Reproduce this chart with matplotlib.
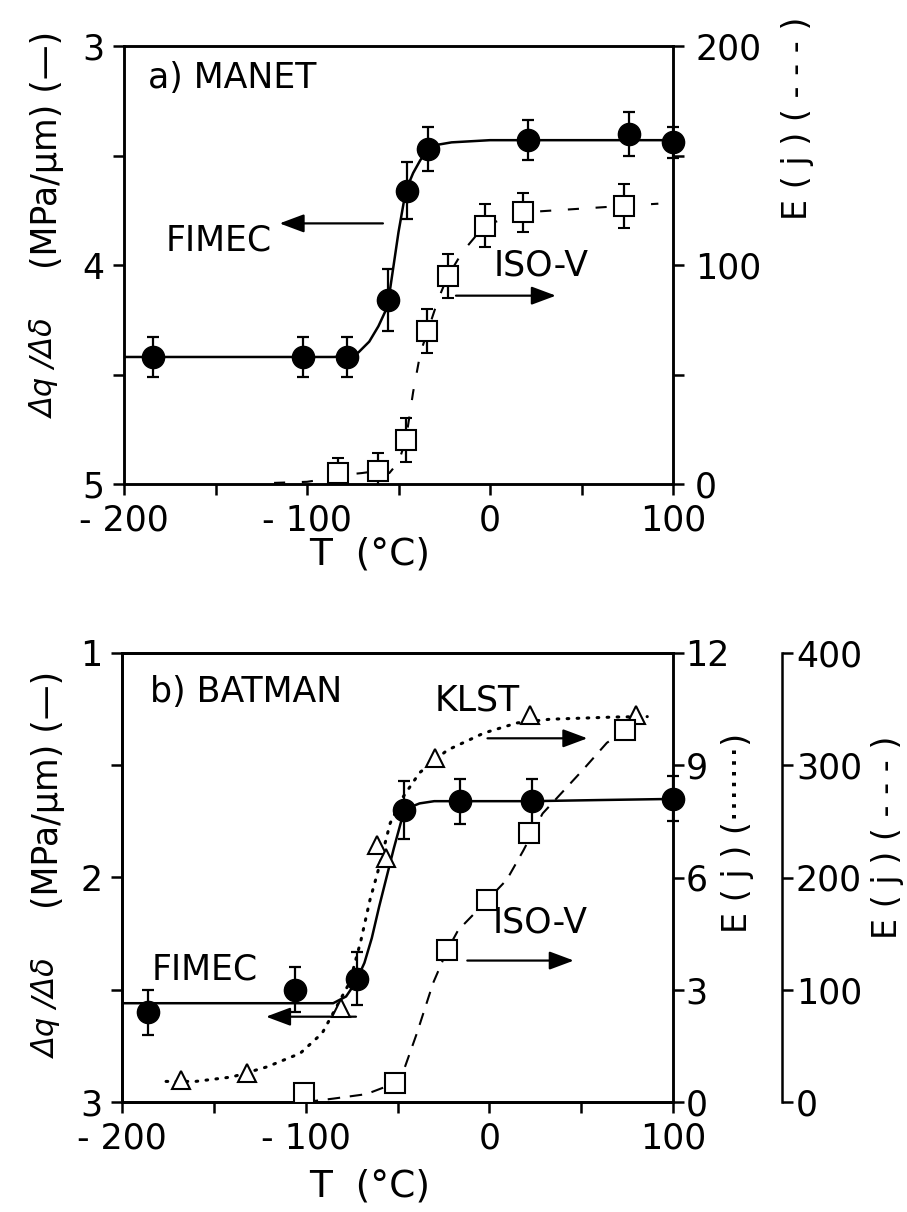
import matplotlib
matplotlib.use("Agg")
import matplotlib.pyplot as plt
from matplotlib.ticker import FixedLocator

plt.rcParams['font.family'] = ['DejaVu Sans']
plt.rcParams['lines.scale_dashes'] = False

# ---------------- Panel a: MANET ----------------
a_fimec_T = [-184, -102, -78, -56, -45.5, -34, 21, 76, 100]
a_fimec_v = [4.42, 4.42, 4.42, 4.16, 3.66, 3.47, 3.43, 3.40, 3.44]
a_fimec_err = [0.09, 0.09, 0.09, 0.14, 0.13, 0.10, 0.09, 0.10, 0.07]
a_fit_T = [-200, -120, -85, -72, -66, -61, -56, -53, -50, -46, -42, -38, -34, -28, -21, 0, 50, 100]
a_fit_v = [4.42, 4.42, 4.42, 4.40, 4.35, 4.28, 4.19, 4.02, 3.85, 3.66, 3.58, 3.52, 3.48, 3.45, 3.44, 3.43, 3.43, 3.43]

a_iso_T = [-83, -61, -46, -34.5, -23, -3, 18, 73]
a_iso_E = [5, 6, 20, 70, 95, 118, 124, 127]
a_iso_err = [7, 8, 10, 10, 10, 10, 9, 10]
a_isofit_T = [-118, -100, -88, -82, -70, -61, -55, -50, -46, -42, -38, -34, -28, -23, -15, -3, 18, 73, 92]
a_isofit_E = [0.5, 1, 2.5, 4, 5, 6, 5, 10, 20, 42, 60, 70, 85, 95, 106, 118, 124, 127, 128]

# ---------------- Panel b: BATMAN ----------------
b_fimec_T = [-186, -106, -72, -46.5, -16, 23, 100]
b_fimec_v = [2.60, 2.50, 2.45, 1.70, 1.66, 1.66, 1.65]
b_fimec_err = [0.10, 0.10, 0.12, 0.13, 0.10, 0.10, 0.10]
b_fit_T = [-200, -100, -85, -78, -73, -68, -64, -60, -56, -52, -48, -44, -38, -30, -20, 0, 23, 60, 100]
b_fit_v = [2.56, 2.56, 2.56, 2.53, 2.47, 2.38, 2.27, 2.13, 2.00, 1.87, 1.75, 1.69, 1.67, 1.66, 1.66, 1.66, 1.66, 1.655, 1.65]

b_klst_T = [-168, -132, -81, -61, -56, -29.6, 22, 80]
b_klst_E = [0.59, 0.78, 2.5, 6.87, 6.52, 9.19, 10.34, 10.34]
b_klstfit_T = [-176, -160, -140, -121, -103, -91, -85, -76, -70, -65, -61, -54, -47, -38, -23, -3, 15, 33, 69, 86]
b_klstfit_E = [0.55, 0.55, 0.67, 0.94, 1.3, 1.84, 2.38, 3.2, 4.3, 5.4, 6.1, 7.45, 8.15, 8.8, 9.4, 9.86, 10.13, 10.23, 10.29, 10.3]

b_iso_T = [-101, -51.4, -23, -1, 21.6, 74]
b_iso_E = [8, 17, 135, 180, 240, 331]
b_isofit_T = [-100, -85, -67, -51, -46, -39.5, -30.6, -23, -17, -1, 9.5, 18.5, 29, 51, 64, 74]
b_isofit_E = [0, 3, 7, 17, 31, 61, 106, 135, 153, 180, 198, 224, 257, 296, 320, 331]

W, H = 907, 1212
fig = plt.figure(figsize=(W / 100, H / 100), dpi=100)

FS = 25
LW = 1.8
tick_kw = dict(direction='out', length=8, width=LW, labelsize=FS)


def px_axes(l, r, t, b):
    return fig.add_axes([l / W, 1 - b / H, (r - l) / W, (b - t) / H])


def style(ax):
    for s in ax.spines.values():
        s.set_linewidth(LW)
    ax.tick_params(which='both', **tick_kw)


def arrow(ax, x0, y0, x1, y1):
    ax.annotate('', xy=(x1, y1), xytext=(x0, y0),
                arrowprops=dict(arrowstyle='-|>,head_length=0.75,head_width=0.28',
                                mutation_scale=20, lw=1.6, color='black',
                                shrinkA=0, shrinkB=0))


# ================= Panel a =================
ax = px_axes(124, 673, 46, 484)
axr = ax.twinx()
for a_ in (ax, axr):
    style(a_)
ax.set_xlim(-200, 100)
ax.set_ylim(5, 3)
axr.set_ylim(0, 200)
ax.xaxis.set_major_locator(FixedLocator([-200, -100, 0, 100]))
ax.xaxis.set_minor_locator(FixedLocator([-150, -50, 50]))
ax.yaxis.set_major_locator(FixedLocator([3, 4, 5]))
ax.yaxis.set_minor_locator(FixedLocator([3.5, 4.5]))
axr.yaxis.set_major_locator(FixedLocator([0, 100, 200]))
axr.yaxis.set_minor_locator(FixedLocator([50, 150]))
ax.tick_params(axis='x', pad=6)
ax.tick_params(axis='y', pad=6)
axr.tick_params(axis='y', pad=8)
ax.set_xticklabels(['- 200', '- 100', '0', '100'])

ax.plot(a_fit_T, a_fit_v, '-', color='black', lw=1.8, zorder=3)
ax.errorbar(a_fimec_T, a_fimec_v, yerr=a_fimec_err, fmt='o', ms=16, mfc='black', mec='black',
            ecolor='black', elinewidth=1.6, capsize=4.5, capthick=1.6, zorder=4, clip_on=False)

axr.plot(a_isofit_T, a_isofit_E, color='black', lw=1.5, dashes=(8, 12), zorder=2)
axr.errorbar(a_iso_T, a_iso_E, yerr=a_iso_err, fmt='s', ms=14, mfc='white', mec='black', mew=1.5,
             ecolor='black', elinewidth=1.6, capsize=4.5, capthick=1.6, zorder=4)

ax.text(0.044, 0.927, 'a) MANET', transform=ax.transAxes, fontsize=FS, ha='left', va='center')
ax.text(-177.5, 3.89, 'FIMEC', fontsize=FS, ha='left', va='center')
ax.text(2, 4.0, 'ISO-V', fontsize=FS, ha='left', va='center')
arrow(ax, -58.5, 3.81, -115, 3.81)
arrow(ax, -18.6, 4.14, 36, 4.14)

fig.text(370 / W, 1 - 555 / H, 'T  (°C)', fontsize=FS + 2, ha='center', va='center')
fig.text(45 / W, 1 - 368 / H, 'Δq /Δδ', fontsize=FS - 3, ha='center', va='center', rotation=90, style='italic')
fig.text(47 / W, 1 - 150 / H, '(MPa/μm) (—)', fontsize=FS, ha='center', va='center', rotation=90)
fig.text(797 / W, 1 - 118 / H, 'E ( j ) ( - - - )', fontsize=FS - 1, ha='center', va='center', rotation=90)

# ================= Panel b =================
bx = px_axes(122, 673, 653, 1102)
bxr = bx.twinx()
bxr2 = bx.twinx()
bxr2.spines['right'].set_position(('axes', (782 - 122) / (673 - 122)))
for a_ in (bx, bxr, bxr2):
    style(a_)
bx.set_xlim(-200, 100)
bx.set_ylim(3, 1)
bxr.set_ylim(0, 12)
bxr2.set_ylim(0, 400)
bx.xaxis.set_major_locator(FixedLocator([-200, -100, 0, 100]))
bx.xaxis.set_minor_locator(FixedLocator([-150, -50, 50]))
bx.yaxis.set_major_locator(FixedLocator([1, 2, 3]))
bx.yaxis.set_minor_locator(FixedLocator([1.5, 2.5]))
bxr.yaxis.set_major_locator(FixedLocator([0, 3, 6, 9, 12]))
bxr2.yaxis.set_major_locator(FixedLocator([0, 100, 200, 300, 400]))
bx.tick_params(axis='x', pad=6)
bx.tick_params(axis='y', pad=6)
bxr.tick_params(axis='y', pad=1)
bxr2.tick_params(axis='y', pad=2)
bx.set_xticklabels(['- 200', '- 100', '0', '100'])

bx.plot(b_fit_T, b_fit_v, '-', color='black', lw=1.8, zorder=3)
bx.errorbar(b_fimec_T, b_fimec_v, yerr=b_fimec_err, fmt='o', ms=16, mfc='black', mec='black',
            ecolor='black', elinewidth=1.6, capsize=4.5, capthick=1.6, zorder=4, clip_on=False)

bxr.plot(b_klstfit_T, b_klstfit_E, color='black', lw=2.2, dashes=(1.2, 6), dash_capstyle='round', zorder=2)
bxr.plot(b_klst_T, b_klst_E, '^', ms=13, mfc='white', mec='black', mew=1.5, zorder=4)

bxr2.plot(b_isofit_T, b_isofit_E, color='black', lw=1.5, dashes=(9, 7), zorder=2)
bxr2.plot(b_iso_T, b_iso_E, 's', ms=14, mfc='white', mec='black', mew=1.5, zorder=4)

bx.text(0.051, 0.913, 'b) BATMAN', transform=bx.transAxes, fontsize=FS, ha='left', va='center')
bx.text(-30, 1.21, 'KLST', fontsize=FS, ha='left', va='center')
bx.text(-183.7, 2.41, 'FIMEC', fontsize=FS, ha='left', va='center')
bx.text(2, 2.20, 'ISO-V', fontsize=FS, ha='left', va='center')
arrow(bx, -1, 1.38, 53.4, 1.38)
arrow(bx, -12, 2.37, 46, 2.37)
arrow(bx, -72.6, 2.62, -121.6, 2.62)

fig.text(370 / W, 1 - 1187 / H, 'T  (°C)', fontsize=FS + 2, ha='center', va='center')
fig.text(47 / W, 1 - 1008 / H, 'Δq /Δδ', fontsize=FS - 3, ha='center', va='center', rotation=90, style='italic')
fig.text(48 / W, 1 - 790 / H, '(MPa/μm) (—)', fontsize=FS, ha='center', va='center', rotation=90)
fig.text(737 / W, 1 - 833 / H, 'E ( j ) (·······)', fontsize=FS - 1, ha='center', va='center', rotation=90)
fig.text(887 / W, 1 - 837 / H, 'E ( j ) ( - - - )', fontsize=FS - 1, ha='center', va='center', rotation=90)

fig.savefig('out.png', dpi=100)
